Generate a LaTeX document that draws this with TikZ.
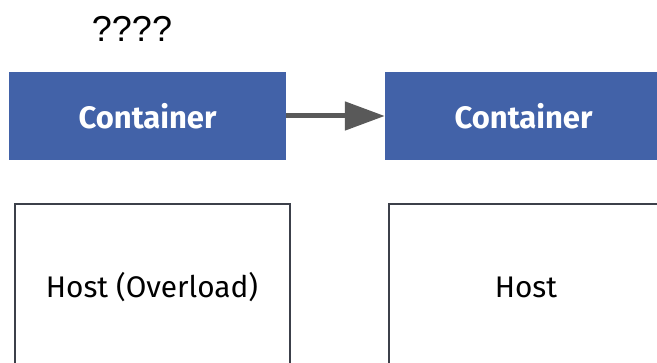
\documentclass[tikz,border=0pt]{standalone}
\usepackage{fontspec}
\setmainfont{Fira Sans}
\newfontfamily\qfont{Liberation Sans}
\usetikzlibrary{arrows.meta}
\definecolor{boxblue}{RGB}{66,98,168}
\definecolor{arrowgray}{RGB}{89,89,89}
\definecolor{hostedge}{RGB}{60,64,74}
\tikzset{
  containerbox/.style={fill=boxblue, draw=none, minimum width=277pt, minimum height=88pt,
    inner sep=0pt, text=white, font=\fontsize{31}{36}\selectfont\bfseries},
  hostbox/.style={draw=hostedge, line width=1.6pt, fill=white, minimum width=275pt,
    minimum height=200pt, inner sep=0pt},
  hostlabel/.style={font=\fontsize{29.8}{34}\selectfont, text=black},
  movearrow/.style={draw=arrowgray, line width=5pt,
    -{Triangle[length=40pt, width=28pt]}},
}
\begin{document}
\begin{tikzpicture}[x=1pt, y=-1pt]
  \useasboundingbox (0,0) rectangle (657,363);
  \clip (0,0) rectangle (657,363);
  % question over the source container
  \node[font=\qfont\fontsize{36}{40}\selectfont] (q) at (132,29) {????};
  % containers
  \node[containerbox] (c1) at (147.5,116) {Container};
  \node[containerbox] (c2) at (523.5,116) {Container};
  % hosts
  \node[hostbox, anchor=north west] (h1) at (14,203) {};
  \node[hostbox, anchor=north west] (h2) at (388,203) {};
  \node[hostlabel] (h1t) at (152,287) {Host (Overload)};
  \node[hostlabel] (h2t) at (526,287) {Host};
  % migration arrow
  \draw[movearrow] (c1.east) -- (c2.west);
\end{tikzpicture}
\end{document}
